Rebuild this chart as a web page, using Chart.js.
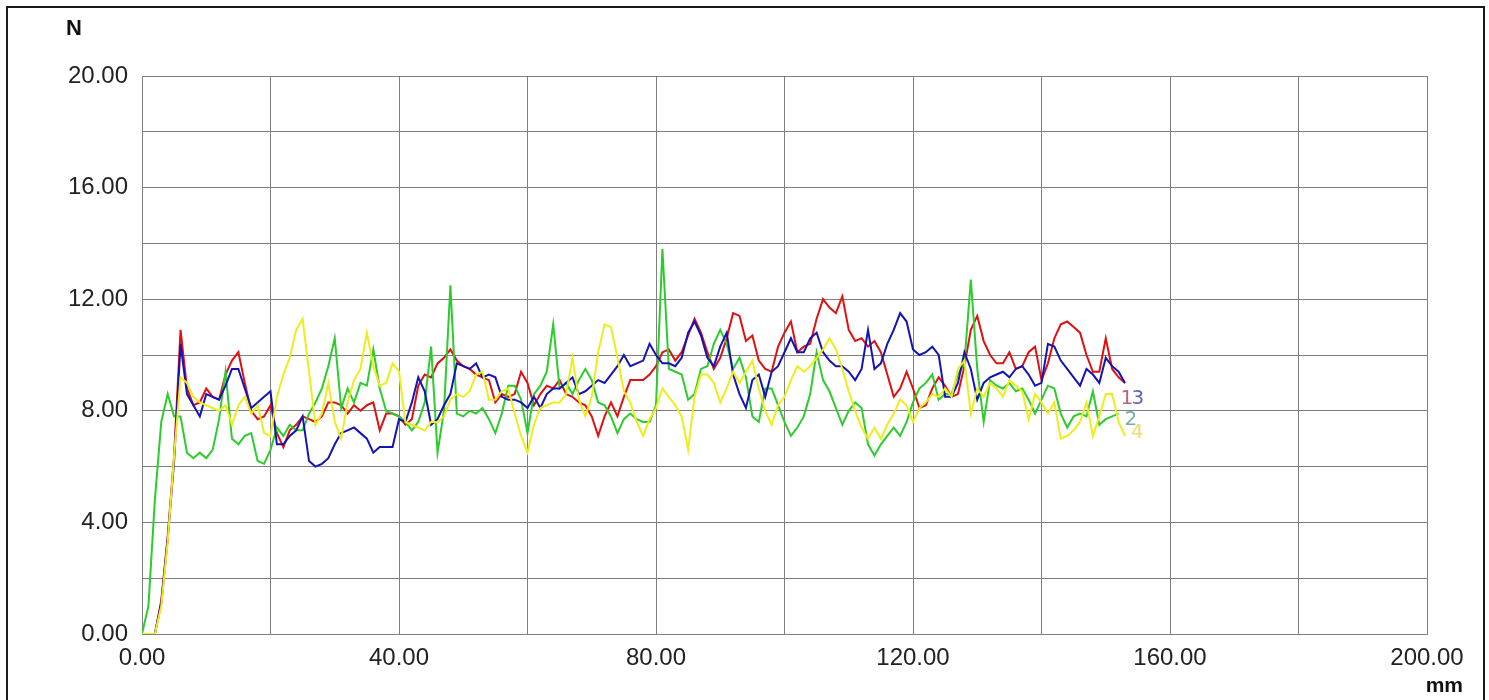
<!DOCTYPE html>
<html>
<head>
<meta charset="utf-8">
<title>Force / travel</title>
<script src="https://cdn.jsdelivr.net/npm/chart.js@4.4.1/dist/chart.umd.min.js"></script>
<style>
  html, body { margin: 0; padding: 0; background: #ffffff; }
  #wrap { width: 1489px; height: 700px; }
</style>
</head>
<body>
<div id="wrap"><canvas id="forceChart" width="1489" height="700"></canvas></div>
<script>
// travel in mm, one reading per mm starting at 0
const startMm = 0;
const stepMm = 1;

// force readings (N), curve 1 .. 4
const curve1 = [
  0, 0, 0, 1.2, 3.5, 6.4, 10.9, 8.8, 8.2, 8.3, 8.8,
  8.5, 8.4, 9.3, 9.8, 10.1, 9.0, 8.0, 7.7, 7.8, 8.2,
  7.2, 6.7, 7.3, 7.5, 7.8, 7.7, 7.6, 7.8, 8.3, 8.3,
  8.2, 7.9, 8.2, 8.0, 8.2, 8.3, 7.3, 7.9, 7.9, 7.8,
  7.5, 7.7, 8.9, 9.3, 9.2, 9.7, 9.9, 10.2, 9.8, 9.6,
  9.5, 9.3, 9.2, 9.1, 8.3, 8.6, 8.5, 8.6, 9.4, 9.0,
  8.2, 8.6, 8.9, 8.8, 9.1, 8.6, 8.5, 8.3, 8.2, 7.8,
  7.1, 7.8, 8.3, 7.8, 8.5, 9.1, 9.1, 9.1, 9.3, 9.6,
  10.1, 10.2, 9.8, 10.1, 10.7, 11.3, 10.8, 10.1, 9.5, 9.9,
  10.6, 11.5, 11.4, 10.5, 10.7, 9.8, 9.5, 9.4, 10.3, 10.8,
  11.2, 10.1, 10.3, 10.4, 11.3, 12.0, 11.7, 11.5, 12.1, 10.9,
  10.5, 10.6, 10.3, 10.5, 10.1, 9.3, 8.5, 8.8, 9.4, 8.8,
  8.1, 8.2, 8.8, 9.2, 8.9, 8.5, 8.6, 9.6, 10.9, 11.4,
  10.5, 10.0, 9.7, 9.7, 10.1, 9.5, 9.6, 10.1, 10.3, 9.1,
  9.7, 10.6, 11.1, 11.2, 11.0, 10.8, 10.0, 9.4, 9.4, 10.6,
  9.5, 9.2, 9.0
];
const curve2 = [
  0, 1.0, 4.8, 7.6, 8.6, 7.8, 7.8, 6.5, 6.3, 6.5, 6.3,
  6.6, 7.7, 9.4, 7.0, 6.8, 7.1, 7.2, 6.2, 6.1, 6.6,
  7.4, 7.1, 7.5, 7.3, 7.3, 7.9, 8.3, 8.8, 9.6, 10.6,
  8.1, 8.8, 8.3, 9.0, 8.9, 10.2, 8.8, 8.0, 7.9, 7.8,
  7.6, 7.3, 7.6, 8.3, 10.3, 6.5, 8.0, 12.5, 7.9, 7.8,
  8.0, 7.9, 8.1, 7.7, 7.2, 7.9, 8.9, 8.9, 8.4, 7.2,
  8.6, 8.9, 9.4, 11.1, 8.8, 9.0, 8.6, 9.1, 9.5, 9.1,
  8.3, 8.2, 7.8, 7.2, 7.7, 7.9, 7.7, 7.6, 7.6, 8.2,
  13.8, 9.5, 9.4, 9.3, 8.4, 8.6, 9.5, 9.6, 10.4, 10.9,
  10.4, 9.5, 9.9, 9.2, 7.8, 7.6, 8.8, 8.8, 8.2, 7.6,
  7.1, 7.4, 7.8, 8.6, 10.1, 9.1, 8.7, 8.1, 7.5, 8.0,
  8.3, 8.1, 6.8, 6.4, 6.8, 7.1, 7.4, 7.1, 7.6, 8.3,
  8.8, 9.0, 9.3, 8.4, 8.6, 8.6, 9.3, 9.7, 12.7, 9.5,
  7.6, 9.1, 8.9, 8.8, 9.0, 8.7, 8.8, 8.4, 7.9, 8.4,
  8.9, 8.8, 7.9, 7.4, 7.8, 7.9, 7.8, 8.7, 7.5, 7.7,
  7.8, 7.9
];
const curve3 = [
  0, 0, 0, 1.1, 3.4, 6.2, 10.4, 8.6, 8.2, 7.8, 8.6,
  8.5, 8.4, 8.9, 9.5, 9.5, 8.8, 8.1, 8.3, 8.5, 8.7,
  6.8, 6.8, 7.1, 7.3, 7.8, 6.2, 6.0, 6.1, 6.3, 6.8,
  7.2, 7.3, 7.4, 7.2, 7.0, 6.5, 6.7, 6.7, 6.7, 7.7,
  7.6, 8.3, 9.2, 8.7, 7.5, 7.7, 8.2, 8.6, 9.7, 9.6,
  9.5, 9.7, 9.2, 9.3, 9.2, 8.5, 8.4, 8.4, 8.3, 8.1,
  8.5, 8.1, 8.6, 8.8, 8.8, 9.0, 9.2, 8.6, 8.7, 8.9,
  9.1, 9.0, 9.3, 9.6, 10.0, 9.6, 9.7, 9.8, 10.4, 10.0,
  9.7, 9.7, 9.6, 9.9, 10.8, 11.2, 10.7, 9.9, 9.6, 10.3,
  10.8, 9.3, 8.6, 8.1, 9.1, 9.3, 8.5, 9.4, 9.6, 10.1,
  10.6, 10.1, 10.1, 10.6, 10.8, 10.1, 9.8, 9.6, 9.6, 9.4,
  9.1, 9.5, 10.9, 9.5, 9.7, 10.4, 10.9, 11.5, 11.2, 10.2,
  10.0, 10.1, 10.3, 10.0, 8.5, 8.5, 9.0, 10.1, 9.5, 8.4,
  9.0, 9.2, 9.3, 9.4, 9.2, 9.5, 9.6, 9.3, 8.9, 9.0,
  10.4, 10.3, 9.8, 9.5, 9.2, 8.9, 9.5, 9.3, 9.0, 9.9,
  9.6, 9.4, 9.0
];
const curve4 = [
  0, 0, 0, 1.0, 3.3, 6.4, 9.2, 9.0, 8.5, 8.3, 8.2,
  8.1, 8.0, 8.2, 7.5, 8.2, 8.5, 7.9, 8.2, 7.2, 7.1,
  8.5, 9.3, 9.9, 10.9, 11.3, 9.4, 7.5, 7.9, 9.0, 7.6,
  7.0, 8.3, 9.1, 9.5, 10.8, 9.6, 8.9, 9.0, 9.7, 9.4,
  7.6, 7.5, 7.4, 7.3, 7.6, 7.6, 7.8, 8.4, 8.6, 8.5,
  8.7, 9.3, 9.4, 8.4, 8.4, 8.7, 8.8, 7.9, 7.1, 6.5,
  7.5, 8.1, 8.2, 8.3, 8.3, 8.6, 9.9, 8.4, 7.8, 8.5,
  10.1, 11.1, 11.0, 9.9, 8.7, 8.3, 7.6, 7.1, 7.7, 8.1,
  8.8, 8.5, 8.2, 7.8, 6.6, 8.5, 9.3, 9.3, 9.0, 8.3,
  8.8, 9.4, 9.0, 9.4, 9.8, 8.8, 8.0, 7.5, 8.2, 8.5,
  9.1, 9.6, 9.4, 9.6, 9.9, 10.2, 10.6, 10.2, 9.5, 8.7,
  8.0, 7.4, 7.0, 7.4, 7.0, 7.5, 7.9, 8.4, 8.2, 7.6,
  8.1, 8.3, 8.6, 8.5, 8.8, 8.5, 9.5, 9.8, 7.9, 8.8,
  8.5, 9.0, 8.8, 8.5, 9.1, 8.9, 8.7, 7.7, 8.6, 8.3,
  7.9, 8.3, 7.0, 7.1, 7.3, 7.6, 8.3, 7.1, 7.8, 8.6,
  8.6, 7.6, 7.1
];

// axis ranges and tick labels
const xTicks = ['0.00', '40.00', '80.00', '120.00', '160.00', '200.00'];
const yTicks = ['0.00', '4.00', '8.00', '12.00', '16.00', '20.00'];

const toPoints = (vals) => vals.map((v, i) => ({ x: startMm + i * stepMm, y: v }));

// end-of-curve number tags (placed in data units)
const endTags = [
  { text: '1', x: 153.3, y: 8.42, color: '#b8607e' },
  { text: '3', x: 155.0, y: 8.42, color: '#6262c4' },
  { text: '2', x: 153.9, y: 7.67, color: '#78aea0' },
  { text: '4', x: 154.9, y: 7.20, color: '#e6e070' }
];

const decorations = {
  id: 'decorations',
  beforeDraw(chart) {
    const c = chart.ctx;
    c.save();
    c.fillStyle = '#ffffff';
    c.fillRect(0, 0, chart.width, chart.height);
    c.restore();
  },
  afterDraw(chart) {
    const c = chart.ctx;
    const xs = chart.scales.x, ys = chart.scales.y;
    c.save();
    // outer frame
    c.strokeStyle = '#1a1a1a';
    c.lineWidth = 2;
    c.strokeRect(7, 7, 1477, 702);
    // axis units
    c.fillStyle = '#111111';
    c.font = 'bold 22px "Liberation Sans", Arial, sans-serif';
    c.textBaseline = 'alphabetic';
    c.textAlign = 'left';
    c.fillText('N', 66, 35);
    c.font = 'bold 21px "Liberation Sans", Arial, sans-serif';
    c.textAlign = 'right';
    c.fillText('mm', 1463, 692);
    // curve numbers
    c.font = '20px "DejaVu Sans", sans-serif';
    c.textAlign = 'center';
    c.textBaseline = 'middle';
    endTags.forEach(t => {
      c.fillStyle = t.color;
      c.fillText(t.text, xs.getPixelForValue(t.x), ys.getPixelForValue(t.y));
    });
    c.restore();
  }
};

const tickFont = { family: '"Liberation Sans", Arial, sans-serif', size: 24 };

new Chart(document.getElementById('forceChart'), {
  type: 'line',
  data: {
    datasets: [
      { label: '4', data: toPoints(curve4), borderColor: '#eded1c', order: 0 },
      { label: '3', data: toPoints(curve3), borderColor: '#1414b4', order: 1 },
      { label: '2', data: toPoints(curve2), borderColor: '#2ccc2c', order: 2 },
      { label: '1', data: toPoints(curve1), borderColor: '#e01010', order: 3 }
    ]
  },
  options: {
    responsive: false,
    animation: false,
    layout: { padding: { top: 76, right: 62, left: 0, bottom: 0 } },
    elements: {
      point: { radius: 0 },
      line: { borderWidth: 2, tension: 0, fill: false }
    },
    plugins: {
      legend: { display: false },
      tooltip: { enabled: false },
      title: { display: false }
    },
    scales: {
      x: {
        type: 'linear',
        min: 0,
        max: 200,
        afterFit(scale) { scale.height = 66; },
        grid: { color: '#808080', lineWidth: 1, drawTicks: false },
        border: { display: true, color: '#808080' },
        ticks: {
          stepSize: 20,
          maxRotation: 0,
          autoSkip: false,
          padding: 10,
          color: '#222222',
          font: tickFont,
          callback: (v) => (v % 40 === 0 ? xTicks[v / 40] : '')
        }
      },
      y: {
        min: 0,
        max: 20,
        afterFit(scale) { scale.width = 142; },
        grid: { color: '#808080', lineWidth: 1, drawTicks: false },
        border: { display: true, color: '#808080' },
        ticks: {
          stepSize: 2,
          autoSkip: false,
          padding: 14,
          color: '#222222',
          font: tickFont,
          callback: (v) => (v % 4 === 0 ? yTicks[v / 4] : '')
        }
      }
    }
  },
  plugins: [decorations]
});
</script>
</body>
</html>
